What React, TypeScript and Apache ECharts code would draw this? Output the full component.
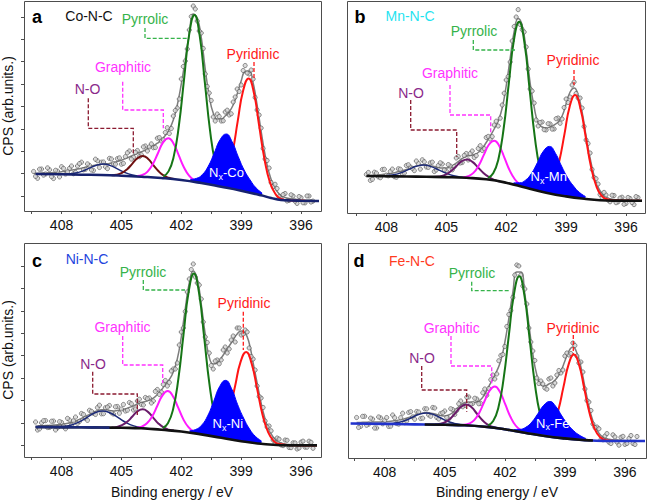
import React, { useEffect, useRef } from "react";
import * as echarts from "echarts";

// ---------- shared axes ----------
const scanEnergy = [409.4,409.2,409.0,408.8,408.6,408.4,408.2,408.0,407.8,407.6,407.4,407.2,407.0,406.8,406.6,406.4,406.2,406.0,405.8,405.6,405.4,405.2,405.0,404.8,404.6,404.4,404.2,404.0,403.8,403.6,403.4,403.2,403.0,402.8,402.6,402.4,402.2,402.0,401.8,401.6,401.4,401.2,401.0,400.8,400.6,400.4,400.2,400.0,399.8,399.6,399.4,399.2,399.0,398.8,398.6,398.4,398.2,398.0,397.8,397.6,397.4,397.2,397.0,396.8,396.6,396.4,396.2,396.0,395.8,395.6,395.4];
const scanEnergyMid = [409.3,409.1,408.9,408.7,408.5,408.3,408.1,407.9,407.7,407.5,407.3,407.1,406.9,406.7,406.5,406.3,406.1,405.9,405.7,405.5,405.3,405.1,404.9,404.7,404.5,404.3,404.1,403.9,403.7,403.5,403.3,403.1,402.9,402.7,402.5,402.3,402.1,401.9,401.7,401.5,401.3,401.1,400.9,400.7,400.5,400.3,400.1,399.9,399.7,399.5,399.3,399.1,398.9,398.7,398.5,398.3,398.1,397.9,397.7,397.5,397.3,397.1,396.9,396.7,396.5,396.3,396.1,395.9,395.7,395.5];
const xTickLabels = [408, 405, 402, 399, 396];
const xTickMarks = [409.5, 408, 406.5, 405, 403.5, 402, 400.5, 399, 397.5, 396];
const aYTicks = [15, 37.4, 59.8, 82.2, 104.6, 127, 149.4, 171.8, 194.2];
const cYTicks = [11.7, 34.1, 56.5, 78.9, 101.3, 123.7, 146.1, 168.5, 190.9];

// ---------- panel a : Co-N-C ----------
const aBg = [[409.3,37],[408,36.7],[407,36.3],[406,36],[405,35.3],[404,34.3],[403,33],[402,31],[401,28],[400,24.3],[399,20.3],[398,15.7],[397.5,13],[397,11],[396.5,10.5],[396,10.3],[395.1,10]];
const aSat = [[408.0,36.8],[407.65,37.1],[407.3,37.9],[406.95,39.9],[406.6,42.9],[406.25,45.8],[405.9,46.9],[405.55,45.4],[405.2,42.1],[404.85,38.8],[404.5,36.3],[404.15,35],[403.8,34.1]];
const aNO = [[405.49,35.8],[405.23,36.3],[404.97,38.1],[404.71,41.8],[404.45,47.4],[404.19,52.9],[403.93,55],[403.67,52.3],[403.41,46.1],[403.15,40],[402.89,35.6],[402.63,33.2],[402.37,31.9]];
const aGra = [[404.21,35],[403.95,36],[403.69,39.4],[403.43,46.8],[403.17,57.8],[402.91,68.6],[402.65,72.8],[402.39,67.6],[402.13,55.9],[401.87,43.8],[401.61,35.3],[401.35,30.8],[401.09,28.7]];
const aPyr = [[402.9,34.7],[402.64,39.6],[402.38,54.4],[402.12,85.4],[401.86,131.9],[401.6,177.2],[401.34,196],[401.08,175.6],[400.82,128.6],[400.56,80.6],[400.3,48],[400.04,31.7],[399.78,25.3]];
const aNx = [[401.55,31.55],[401.25,32.55],[400.95,36.3],[400.65,44.7],[400.35,57.9],[400.05,71.5],[399.75,77],[399.45,69.1],[399.15,54.5],[398.85,41],[398.55,31],[398.25,23],[397.95,18]];
const aNxBase = [29.65,28.75,27.8,26.7,25.6,24.5,23.3,22.1,20.9,19.6,18.2,16.85,15.4];
const aPyd = [[400.24,26.5],[399.97,29.2],[399.7,38.5],[399.43,59],[399.17,90.1],[398.9,120.5],[398.63,132.6],[398.36,118],[398.1,85.3],[397.83,51.8],[397.56,28.7],[397.29,17.2],[397.03,12.4],[396.5,10.6],[395.8,10.3],[395.1,10.1]];
const aEnv = [37.5,37.7,37.9,38.0,38.2,38.5,38.9,39.3,40.0,40.6,41.3,42.0,42.8,43.7,44.6,45.5,46.2,46.8,47.2,47.6,48.3,49.4,50.8,52.4,54.0,55.8,57.5,59.2,61.0,63.0,65.3,67.8,71.0,75.5,81.5,91.0,106.0,127.0,152.0,177.0,197.0,193.0,174.0,142.0,115.0,98.0,92.0,92.0,95.0,99.0,106.0,117.0,130.0,139.5,140.0,128.0,106.0,80.0,56.0,38.0,26.5,19.5,15.5,13.5,12.5,12.0,11.6,11.3,11.1,11.0,10.9];
const aScan = [39.5,32.7,41.9,37,41.2,32.5,39.9,44.3,37,42.6,37.3,45,48.8,41.7,45.6,40.5,50.2,48.8,44.2,52.6,47.3,52.4,46.8,54.4,60,53.8,60.5,56.2,65,64,63.3,72.8,70,78.5,77.5,95,103,132,150,181,205,190,178,137,118,94,97,90,99,96,109,122,126,145.5,137,132,101,83,52,43,24.5,22.5,12.5,17.5,10.5,15,7.6,13.3,8.1,15,9.9];
const aScanMid = [34.6,41.8,35.9,43.1,34.4,40.7,34.1,42.6,39.3,45,38.6,47.4,41.2,47.1,41,51.8,43.5,49,42.4,52,46.8,53.1,47.6,58.2,51.9,58.6,54.3,64.1,60,67.1,63.5,73.4,71.2,83.3,82.5,100.5,112,144.5,162,194.5,202,180,162.5,124.5,110.5,90,94.5,90.2,100.8,97.2,114,119.5,140.5,138,141,113.5,96,62.5,50.5,28.5,26.7,14.3,16.4,10,16.2,9.8,14.45,8.2,15.05,8.95];

// ---------- panel b : Mn-N-C ----------
const bBg = [[409.0,37],[408,36.8],[407,36.5],[406,36.2],[405,35.9],[404,35.2],[403,33.7],[402,30.3],[401,25.2],[400,20.3],[399,16.6],[398,14],[397.3,12.8],[396.5,12.4],[395.2,12.3]];
const bSat = [[408.38,37],[408.0,37.3],[407.63,38.3],[407.25,40.4],[406.88,43.6],[406.5,46.7],[406.13,48],[405.76,46.4],[405.38,43.1],[405.0,39.7],[404.63,37.2],[404.26,35.9],[403.88,35.1]];
const bNO = [[405.61,36],[405.34,36.5],[405.06,38.1],[404.79,41.5],[404.51,46.6],[404.24,51.6],[403.96,53.6],[403.69,51.1],[403.41,45.6],[403.14,40],[402.86,35.8],[402.59,33.1],[402.31,31.5]];
const bGra = [[404.16,35.7],[403.9,36.8],[403.64,40.1],[403.38,47.3],[403.12,58.1],[402.86,68.5],[402.6,72.3],[402.34,66.8],[402.08,54.9],[401.82,42.4],[401.56,33.5],[401.3,28.5],[401.04,25.8]];
const bPyr = [[402.91,35.2],[402.65,39.7],[402.39,53.8],[402.13,84],[401.87,129.3],[401.61,173.3],[401.35,191.3],[401.09,170.7],[400.83,124],[400.57,76.4],[400.31,44],[400.05,27.7],[399.79,21.3]];
const bNx = [[401.63,30.1],[401.33,30.2],[401.03,32.85],[400.73,39.7],[400.43,50.6],[400.13,62],[399.83,66.6],[399.53,59.6],[399.23,47],[398.93,35.5],[398.63,27],[398.33,20.5],[398.03,16.5]];
const bNxBase = [28.4,26.9,25.35,23.9,22.4,21,19.7,18.6,17.45,16.4,15.6,14.9,14.1];
const bPyd = [[400.14,21.9],[399.88,24.4],[399.61,32.8],[399.35,51.2],[399.08,79.1],[398.82,106.6],[398.55,117.9],[398.29,105.3],[398.02,76.3],[397.76,46.9],[397.49,27],[397.23,17.3],[396.96,13.7],[396.4,12.4],[395.7,12.3],[395.2,12.3]];
const bEnv = [null,null,37.5,37.6,37.8,38.1,38.5,38.9,39.5,40.3,41.2,42.3,43.5,45.0,46.4,47.5,48.2,48.0,47.2,46.5,45.5,45.0,45.0,46.0,48.5,51.5,54.5,56.5,57.5,58.5,60.5,64.5,70.5,77,84,92,105,127,155,181.5,194.4,187.5,163,130,106,90,86,85,86,88,91,97,109,121,125,118,101,77,55,37.5,26,19.5,16,14.2,13.5,13.1,12.8,12.6,12.5,12.4,12.4];
const bScan = [null,null,38.5,32.6,40.8,36.1,43.5,37.9,41.5,36.3,44.2,39.3,47.5,46,42.4,49.5,53.2,46,50.2,41.5,47.5,49,42,47,46.5,56.5,50.5,59.5,59.5,55.5,64.5,62.5,75.5,74,88,87,108,133,151,186.5,203.4,183.5,166,124,110,87,91,83,89,84,95,94,114,116,131,115,105,73,60,35.5,29,15.5,18,11.2,17.5,11.1,15.8,9.6,14.5,8.4,15.4];
const bScanMid = [null,null,40.55,33.7,39.95,35.3,43.7,37.2,43.9,35.75,43.75,39.9,48.25,44.7,52,43.9,51.2,45.6,50.85,43,50.2,43,48.4,43.2,55,50,57.6,53,62,57.4,67.3,64.3,76.6,76.4,91.8,94.8,119.8,136.5,172,196,188.5,181,144,122,93,90.5,83.3,89.3,83.9,94.3,89.7,105.5,110.5,128,119.5,115,86.5,69.5,43.5,34.3,18.5,20.6,13,17.8,10.3,14.95,8.7,15.55,10.45,16.4];

// ---------- panel c : Ni-N-C ----------
const cBg = [[409.3,30],[408,29.9],[407,29.7],[406,29.5],[405,29.2],[404,28.7],[403,27.2],[402,25.5],[401,22.6],[400,19.2],[399,15.8],[398,13.2],[397,11.8],[396,11.6],[395.2,11.6]];
const cBgLeft = [[409.3,30],[408,29.9],[407,29.7],[406,29.5],[405.6,29.4]];
const cSat = [[408.28,30.1],[407.89,30.6],[407.5,32.05],[407.11,35.1],[406.72,39.7],[406.33,44.2],[405.94,46.1],[405.55,44],[405.16,39.35],[404.77,34.5],[404.38,31.15],[403.99,29.4],[403.6,28.3]];
const cNO = [[405.49,29.5],[405.23,30.1],[404.97,31.8],[404.71,35.2],[404.45,40.5],[404.19,45.7],[403.93,47.7],[403.67,45.1],[403.41,39.4],[403.15,33.6],[402.89,29.6],[402.63,27.4],[402.37,26.4]];
const cGra = [[404.24,29.2],[403.98,30.4],[403.72,33.7],[403.46,40.6],[403.2,51.3],[402.94,61.7],[402.68,65.9],[402.42,60.8],[402.16,49.6],[401.9,37.9],[401.64,29.8],[401.38,25.4],[401.12,23.4]];
const cPyr = [[402.93,28.9],[402.67,33.7],[402.41,47.8],[402.15,77.7],[401.89,122.1],[401.63,165.3],[401.37,183.4],[401.11,163.8],[400.85,119],[400.59,73.1],[400.33,41.9],[400.07,26.4],[399.81,20.4]];
const cNx = [[401.58,26.3],[401.28,27.5],[400.98,31.85],[400.68,41.1],[400.38,55.5],[400.08,70.4],[399.78,76.65],[399.48,68.3],[399.18,52.6],[398.88,39],[398.58,28],[398.28,20.5],[397.98,16]];
const cNxBase = [24.2,23.4,22.55,21.5,20.5,19.5,18.45,17.4,16.4,15.5,14.7,13.9,13.2];
const cPyd = [[400.4,21.6],[400.13,23.6],[399.85,30.9],[399.58,47],[399.3,71.3],[399.03,95.1],[398.75,105],[398.48,93.7],[398.2,68.2],[397.93,42.3],[397.65,24.9],[397.38,16.2],[397.1,12.9],[396.5,11.7],[395.8,11.6],[395.2,11.6]];
const cEnv = [null,31,31.2,31.4,31.6,31.9,32.2,32.6,33.2,34,35.2,36.7,38.5,40.6,42.7,44.7,46.4,47.2,47.3,46.5,46,46.5,47,48,49.5,51,53,54.5,55.5,57,59,62.5,67,72.5,77.5,85,98,120,148.5,174,186,178,153,123,100,93,94,99,105,111,117,123,126,124,114,94,74,54,38,27,20,16,14,13,12.5,12.2,12,11.9,11.8,11.8,11.7];
const cScan = [null,27,34.2,36.4,29.6,35.9,29.2,34.6,28.2,37,36.2,33.7,43.5,38.6,46.7,43.7,49.4,43.2,49.3,51.5,43,50.5,48,46,54.5,47,56,52.5,59.5,59,56,67.5,65,76.5,74.5,88,94,125,145.5,178,193,174,158,120,104,88,97,97,110,108,121,129,122,127,109,98,71,59,36,31,17,19,12,17,9.5,14.2,8,14.9,9.8,15.8,8.7];
const cScanMid = [35,28.1,36.3,29.5,35.75,27.05,35.4,30.9,38.6,31.6,39.95,35.6,42.55,36.65,45.7,42.55,51.8,43.3,49.9,44.2,50.2,43.75,52.5,46.75,53.25,48,57.75,52,58.25,54,65.6,62.6,72.6,71,86,88,112,129,165,187.5,180,172,135,114.5,91.5,96,93.2,107,104,117,115,129,123,125,100.5,87,60.5,49.5,30,26.2,13.8,17.9,11.4,16.7,9.35,14.1,8.95,15.85,9.8,14.75];

// ---------- panel d : Fe-N-C ----------
const dBg = [[409.7,34.5],[408,34.1],[407,33.8],[406,33.5],[405,33.2],[404,32.7],[403,31.2],[402,28.7],[401,25.3],[400,22],[399,19.6],[398,17.9],[397,17.1],[396,17],[395,17]];
const dBgMid = [[406,33.5],[405,33.2],[404,32.7],[403,31.2],[402,28.7],[401,25.3],[400,22],[399,19.6],[398,17.9],[397.6,17.5]];
const dSat = [[408.02,34.2],[407.67,34.5],[407.32,35.5],[406.97,37.5],[406.62,40.7],[406.27,43.7],[405.92,45],[405.57,43.5],[405.22,40.3],[404.87,36.8],[404.52,34.6],[404.17,33.3],[403.82,32.5]];
const dNO = [[405.48,33.6],[405.22,34.2],[404.96,36],[404.7,39.8],[404.44,45.6],[404.18,51.3],[403.92,53.6],[403.66,50.7],[403.4,44.5],[403.14,38.2],[402.88,33.7],[402.62,31.2],[402.36,29.8]];
const dGra = [[404.06,33.2],[403.8,34.3],[403.54,37.6],[403.28,45.1],[403.02,56.5],[402.76,67.2],[402.5,71.5],[402.24,65.9],[401.98,53.8],[401.72,41.3],[401.46,32.5],[401.2,27.8],[400.94,25.6]];
const dPyr = [[402.84,32.5],[402.58,36.9],[402.32,50.5],[402.06,79.4],[401.8,122.3],[401.54,164.2],[401.28,181.7],[401.02,162.5],[400.76,118.8],[400.5,74.2],[400.24,43.8],[399.98,28.8],[399.72,23]];
const dNx = [[401.55,28.5],[401.25,28.65],[400.95,30.75],[400.65,35.95],[400.35,44.25],[400.05,52.85],[399.75,56.5],[399.45,51.4],[399.15,42],[398.85,33.5],[398.55,27],[398.25,22.5],[397.95,19.5]];
const dNxBase = [27.2,26.15,25.15,24.15,23.15,22.15,21.4,20.7,19.95,19.35,18.85,18.3,17.85];
const dPyd = [[400.11,23.2],[399.85,25.4],[399.59,32.4],[399.33,47.8],[399.07,71.1],[398.81,93.9],[398.55,103.4],[398.29,93],[398.03,69.2],[397.77,45.1],[397.51,28.9],[397.25,21],[396.99,18],[396.5,17.05],[395.8,17],[395.1,17]];
const dEnv = [35.5,35.6,35.7,35.8,35.9,36,36.1,36.3,36.6,37,37.5,38.3,39.3,40.6,42.1,43.5,44.5,45.2,45,44.5,43.5,42.5,42,43,45.5,49.5,53,55.5,56,55.5,56,58.5,64,71.5,79,87,97.5,115.5,139.5,165.5,186,186,164,134,104,83,73,72,74,76,80,87,97,107,111,105,91,71,52,37,28,22.5,20,18.8,18.2,17.9,17.7,17.6,17.5,17.5,17.5];
const dScan = [40.5,31.6,41.7,33.8,38.9,30,40.1,37.3,31.6,43,34.5,40.3,35.3,45.6,41.1,46.5,39.5,49.2,43,50.5,40.5,44.5,47,39,48.5,47.5,57,52.5,61,54.5,59,54.5,69,69.5,83,84,102.5,111.5,143.5,160.5,193,183,169,130,107,80,77,70,79,72,83,85,102,103,115,102,96,69,56,34,31,18.5,22,15.8,23.2,15.9,20.7,13.6,19.5,14.5,21.5];
const dScanMid = [30.55,41.65,32.75,39.85,29.95,41.05,34.2,40.45,31.8,40.25,33.9,44.8,36.95,46.35,38.8,46,39.85,49.1,41.75,50,39,45.25,40.5,49.25,43.5,54.25,51.25,60.75,53.75,59.75,54.25,65.25,62.75,78.25,79,97.25,103.5,131.5,147.5,183,192,172,154,116,97.5,74.5,74,68.8,80,75,87.5,88,105,104.5,112.5,95,86,57.5,47.5,30.5,29.2,18.2,24.4,14.5,21.05,12.8,21.65,14.55,22.5,13.5];

const FONT = '"Liberation Sans", Arial, Helvetica, sans-serif';

type Pt = number[];
interface Panel {
  bg: Pt[]; bgColor: string; bgExtra?: Pt[]; bgExtraColor?: string;
  sat: Pt[]; no: Pt[]; noColor: string; gra: Pt[]; pyr: Pt[];
  nx: Pt[]; nxBase: number[]; pyd: Pt[];
  env: (number | null)[]; scan: (number | null)[]; scanMid: (number | null)[];
  grid: { left: number; top: number; width: number; height: number };
  xMin: number; xMax: number; yTicks?: number[];
}

const panels: Panel[] = [
  { bg: aBg, bgColor: "#17226e", sat: aSat, no: aNO, noColor: "#6e1010", gra: aGra, pyr: aPyr, nx: aNx, nxBase: aNxBase, pyd: aPyd, env: aEnv, scan: aScan, scanMid: aScanMid,
    grid: { left: 24, top: 1, width: 297, height: 210 }, xMin: 395.0, xMax: 409.88, yTicks: aYTicks },
  { bg: bBg, bgColor: "#111111", sat: bSat, no: bNO, noColor: "#6a1b6a", gra: bGra, pyr: bPyr, nx: bNx, nxBase: bNxBase, pyd: bPyd, env: bEnv, scan: bScan, scanMid: bScanMid,
    grid: { left: 347, top: 1, width: 298, height: 212 }, xMin: 395.05, xMax: 409.97 },
  { bg: cBg, bgColor: "#111111", bgExtra: cBgLeft, bgExtraColor: "#1c2a78", sat: cSat, no: cNO, noColor: "#6a1b6a", gra: cGra, pyr: cPyr, nx: cNx, nxBase: cNxBase, pyd: cPyd, env: cEnv, scan: cScan, scanMid: cScanMid,
    grid: { left: 24, top: 243, width: 297, height: 214 }, xMin: 395.0, xMax: 409.88, yTicks: cYTicks },
  { bg: dBg, bgColor: "#2233cc", bgExtra: dBgMid, bgExtraColor: "#111111", sat: dSat, no: dNO, noColor: "#6a1b6a", gra: dGra, pyr: dPyr, nx: dNx, nxBase: dNxBase, pyd: dPyd, env: dEnv, scan: dScan, scanMid: dScanMid,
    grid: { left: 348, top: 243, width: 298, height: 215 }, xMin: 394.95, xMax: 409.83 },
];

function pairUp(energies: number[], arr: (number | null)[]): Pt[] {
  const out: Pt[] = [];
  energies.forEach((e, k) => { if (arr[k] != null) out.push([e, arr[k] as number]); });
  return out;
}

function buildSeries(p: Panel, i: number): any[] {
  const ax = { xAxisIndex: i, yAxisIndex: i };
  const line = (data: Pt[], color: string, width: number, z: number) => ({
    type: "line", ...ax, data, smooth: true, symbol: "none", showSymbol: false, silent: true,
    lineStyle: { color, width }, z,
  });
  const scat = (data: Pt[]) => ({
    type: "scatter", ...ax, data, symbol: "circle", symbolSize: 4.2, silent: true, z: 3,
    itemStyle: { color: "#d2d2d2", borderColor: "#505050", borderWidth: 0.8 },
  });
  const basePts = p.nx.map((pt, k) => [pt[0], p.nxBase[k]]);
  // mask slightly wider than the blue component so no anti-aliased edge remains
  const mask = [[basePts[0][0] + 0.08, basePts[0][1]], ...basePts, [basePts[basePts.length - 1][0] - 0.08, basePts[basePts.length - 1][1]]];
  const out: any[] = [
    line(pairUp(scanEnergy, p.env), "#7d7d7d", 1.5, 2),
    scat(pairUp(scanEnergy, p.scan)),
    scat(pairUp(scanEnergyMid, p.scanMid)),
    line(p.sat, "#1c2a78", 1.5, 4),
    line(p.no, p.noColor, 2, 4),
    line(p.gra, "#ff1aff", 2, 4),
    line(p.pyr, "#167516", 2, 4),
    line(p.pyd, "#ff1414", 2, 4),
    {
      type: "line", ...ax, smooth: true, symbol: "none", silent: true, z: 5,
      data: p.nx, lineStyle: { color: "#0000ff", width: 1 },
      areaStyle: { color: "#0000ff", opacity: 1, origin: "start" },
    },
    {
      type: "line", ...ax, smooth: true, symbol: "none", silent: true, z: 5,
      data: mask, lineStyle: { width: 0, opacity: 0 },
      areaStyle: { color: "#ffffff", opacity: 1, origin: "start" },
    },
    line(p.bg, p.bgColor, 2.6, 6),
  ];
  if (p.bgExtra) out.push(line(p.bgExtra, p.bgExtraColor as string, 2.6, 6));
  return out;
}

const GREEN_T = "#35b34a";
const RED = "#ff1a1a";
const MAG = "#ff33ff";
const NO_T = "#8a2a8a";
const NO_L = "#8b1a30";

const txt = (text: string, x: number, y: number, fill: string, size = 14, weight = "normal", align = "center") => ({
  type: "text", x, y, z: 100, silent: true,
  style: { text, fill, font: `${weight} ${size}px ${FONT}`, align, verticalAlign: "middle" },
});
const dash = (points: number[][], stroke: string) => ({
  type: "polyline", z: 100, silent: true, shape: { points },
  style: { stroke, lineWidth: 1.3, lineDash: [4, 2], fill: "none" },
});
const nxLabel = (x: number, y: number, metal: string) => [
  txt("N", x, y, "#ffffff", 13, "normal", "left"),
  txt("x", x + 9.5, y + 4, "#ffffff", 9, "normal", "left"),
  txt("-" + metal, x + 14, y, "#ffffff", 13, "normal", "left"),
];
const frames = panels.map((p) => ({
  type: "rect", z: 90, silent: true,
  shape: { x: p.grid.left + 0.5, y: p.grid.top + 0.5, width: p.grid.width, height: p.grid.height },
  style: { stroke: "#4d4d4d", lineWidth: 1, fill: "none" },
}));

const annotations: any[] = [
  ...frames,
  // a
  txt("a", 37, 17, "#000", 18, "bold"), txt("Co-N-C", 89, 16, "#111"),
  txt("Pyrrolic", 145, 19, GREEN_T), dash([[145, 28], [145, 38.3], [187, 38.3]], GREEN_T),
  txt("Pyridinic", 253, 54, RED), dash([[254, 62], [254, 78]], RED),
  txt("Graphitic", 123, 67, MAG), dash([[122.7, 81.7], [122.7, 110], [163.3, 110], [163.3, 128.3]], MAG),
  txt("N-O", 87.5, 89, NO_T), dash([[88.3, 98.3], [88.3, 128.3], [133.3, 128.3], [133.3, 155]], NO_L),
  ...nxLabel(209, 172.5, "Co"),
  // b
  txt("b", 360, 17, "#000", 18, "bold"), txt("Mn-N-C", 410, 16, "#1fe3f0"),
  txt("Pyrrolic", 474, 31, GREEN_T), dash([[473.3, 40], [473.3, 50], [515, 50]], GREEN_T),
  txt("Pyridinic", 573, 60, RED), dash([[574, 70], [574, 85]], RED),
  txt("Graphitic", 450, 73, MAG), dash([[450, 85], [450, 115], [490.7, 115], [490.7, 133.3]], MAG),
  txt("N-O", 411, 92.5, NO_T), dash([[410.7, 100], [410.7, 130], [456.7, 130], [456.7, 156.7]], NO_L),
  ...nxLabel(530.5, 176.7, "Mn"),
  // c
  txt("c", 37, 261, "#000", 18, "bold"), txt("Ni-N-C", 87, 259, "#2244dd"),
  txt("Pyrrolic", 143, 272, GREEN_T), dash([[143.3, 280], [143.3, 290], [185, 290]], GREEN_T),
  txt("Pyridinic", 244, 302.5, RED), dash([[243.3, 311.7], [243.3, 350]], RED),
  txt("Graphitic", 122.5, 326.7, MAG), dash([[122.7, 336], [122.7, 365], [162.7, 365], [162.7, 383.3]], MAG),
  txt("N-O", 93, 364, NO_T), dash([[92.7, 371.7], [92.7, 394], [137.3, 394], [137.3, 416.7]], NO_L),
  ...nxLabel(212.5, 423.5, "Ni"),
  // d
  txt("d", 359, 261, "#000", 18, "bold"), txt("Fe-N-C", 412, 261, "#ff3b1f"),
  txt("Pyrrolic", 472, 272.5, GREEN_T), dash([[471.7, 281.7], [471.7, 290.7], [510, 290.7]], GREEN_T),
  txt("Pyridinic", 573, 327.5, RED), dash([[573.3, 335], [573.3, 354]], RED),
  txt("Graphitic", 451.7, 327.5, MAG), dash([[451, 336], [451, 366], [491.7, 366], [491.7, 384]], MAG),
  txt("N-O", 422, 357.5, NO_T), dash([[421.7, 366], [421.7, 390], [466.7, 390], [466.7, 411.7]], NO_L),
  ...nxLabel(536, 423, "Fe"),
  // axis titles
  { ...txt("CPS (arb.units.)", 8, 106, "#111"), rotation: Math.PI / 2 },
  { ...txt("CPS (arb.units.)", 8, 350, "#111"), rotation: Math.PI / 2 },
  txt("Binding energy / eV", 172, 492, "#111"),
  txt("Binding energy / eV", 497, 492, "#111"),
];

export default function App() {
  const ref = useRef<HTMLDivElement>(null);
  useEffect(() => {
    document.body.style.margin = "0";
    if (!ref.current) return;
    const chart = echarts.init(ref.current, undefined, { renderer: "svg" });
    const option: any = {
      animation: false,
      backgroundColor: "#ffffff",
      grid: panels.map((p) => ({ ...p.grid, show: false, containLabel: false })),
      xAxis: panels.map((p, i) => ({
        type: "value", gridIndex: i, min: p.xMin, max: p.xMax, inverse: true,
        axisLine: { show: false, onZero: false }, splitLine: { show: false },
        axisTick: { show: true, customValues: xTickMarks, length: 3, lineStyle: { color: "#4d4d4d" } },
        axisLabel: { show: true, customValues: xTickLabels, fontSize: 14, fontFamily: FONT, color: "#111", margin: 7 },
      })),
      yAxis: panels.map((p, i) => ({
        type: "value", gridIndex: i, min: 0, max: p.grid.height,
        axisLine: { show: false, onZero: false }, splitLine: { show: false }, axisLabel: { show: false },
        axisTick: p.yTicks
          ? { show: true, customValues: p.yTicks, length: 3, lineStyle: { color: "#4d4d4d" } }
          : { show: false },
      })),
      series: panels.flatMap((p, i) => buildSeries(p, i)),
      graphic: annotations,
    };
    chart.setOption(option);
    return () => chart.dispose();
  }, []);
  return <div ref={ref} style={{ position: "absolute", left: 0, top: 0, width: 647, height: 502 }} />;
}
